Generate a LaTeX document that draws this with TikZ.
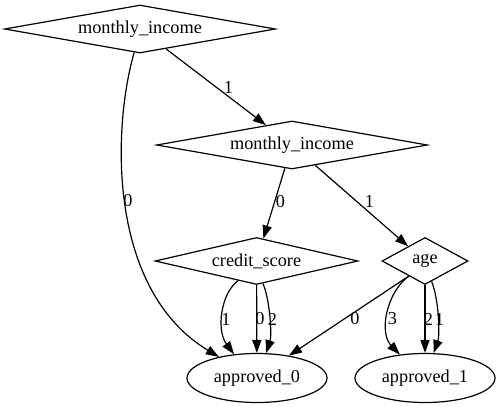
\documentclass[tikz,border=0pt]{standalone}
\usepackage{fontspec}
\setmainfont{Liberation Serif}
\usetikzlibrary{shapes.geometric,arrows.meta}
\begin{document}
\begin{tikzpicture}[x=0.75pt,y=-0.75pt,
  every node/.style={font=\fontsize{13.7}{16}\selectfont},
  dec/.style={diamond,draw,line width=0.9pt,inner sep=0pt},
  leaf/.style={ellipse,draw,line width=0.9pt,inner sep=0pt,minimum width=105pt,minimum height=36.75pt},
  conn/.style={line width=0.9pt,-{Triangle[length=9.8pt,width=6.9pt]}},
  lbl/.style={inner sep=0pt}]
\useasboundingbox (0,0) rectangle (500,407);
% decision nodes
\node[dec,aspect=5.6,minimum width=203.25pt,minimum height=36pt] (n1) at (140,29) {monthly\_income};
\node[dec,aspect=5.6,minimum width=203.25pt,minimum height=36pt] (n2) at (292,145) {monthly\_income};
\node[dec,aspect=4.3,minimum width=152.25pt,minimum height=35.25pt] (cs) at (256.5,261) {credit\_score};
\node[dec,aspect=1.8,minimum width=64.5pt,minimum height=35.25pt] (age) at (425,261) {age};
% leaves
\node[leaf] (a0) at (257,378) {approved\_0};
\node[leaf] (a1) at (425,378) {approved\_1};
% edges
\draw[conn] (n1.256) .. controls (112,130) and (108,290) .. (a0.151);
\draw[conn] (n1) -- (n2);
\draw[conn] (n2) -- (cs);
\draw[conn] (n2) -- (age);
\draw[conn] (cs.227) .. controls (221,293) and (216,330) .. (a0.134);
\draw[conn] (cs) -- (a0);
\draw[conn] (cs.286.5) .. controls (270,300) and (272,335) .. (a0.70);
\draw[conn] (age.223) -- (a0.35);
\draw[conn] (age.223) .. controls (386,293) and (379,333) .. (a1.137);
\draw[conn] (age) -- (a1);
\draw[conn] (age.288.4) .. controls (439,300) and (440,335) .. (a1.71);
% labels
\node[lbl] (l1) at (128,201) {0};
\node[lbl] (l2) at (228.5,87) {1};
\node[lbl] (l3) at (280.5,201.5) {0};
\node[lbl] (l4) at (369.5,201.5) {1};
\node[lbl] (l5) at (226,319) {1};
\node[lbl] (l6) at (260,319) {0};
\node[lbl] (l7) at (272.5,319) {2};
\node[lbl] (l8) at (355,319) {0};
\node[lbl] (l9) at (392.5,319) {3};
\node[lbl] (l10) at (428.5,319) {2};
\node[lbl] (l11) at (439.5,319) {1};
\end{tikzpicture}
\end{document}
